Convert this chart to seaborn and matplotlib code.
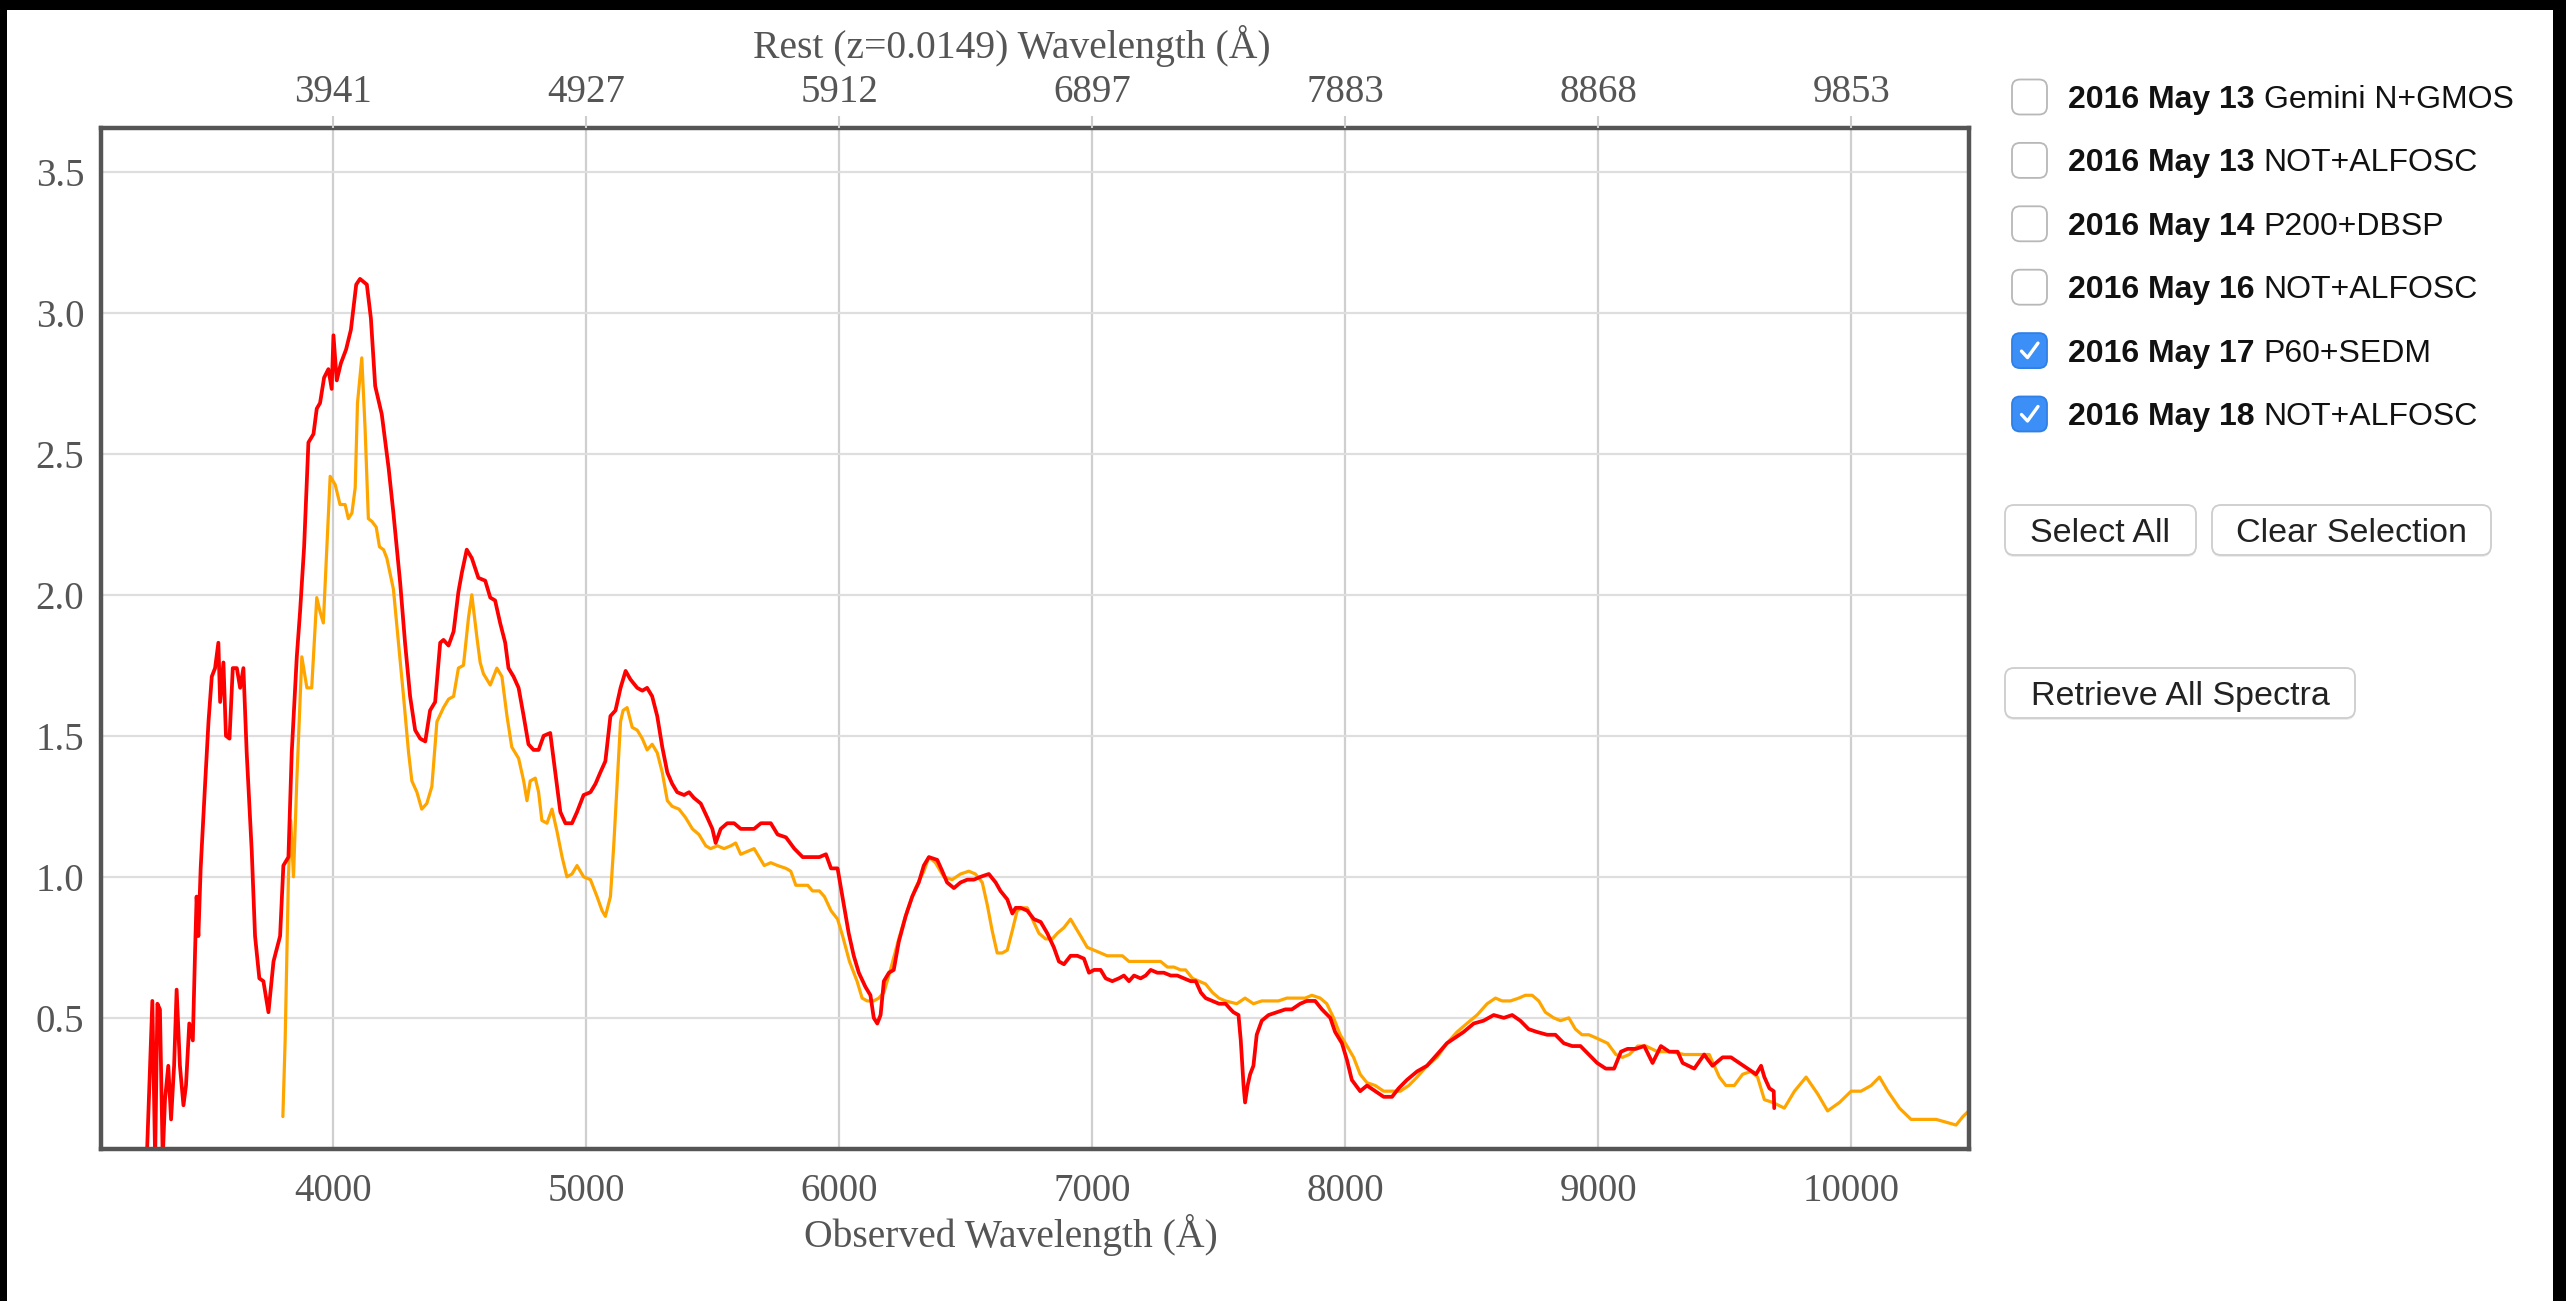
import matplotlib
matplotlib.use("Agg")
import matplotlib.pyplot as plt
from matplotlib.patches import FancyBboxPatch, Rectangle
import pandas as pd
import seaborn as sns

# ---------------------------------------------------------------- data
REDSHIFT = 0.0149

# 2016 May 18 NOT+ALFOSC (red)
may18_wave = [
    3262, 3275, 3284, 3295, 3304, 3314, 3325, 3334, 3347, 3358,
    3370, 3380, 3393, 3407, 3417, 3430, 3444, 3453, 3459, 3466,
    3475, 3492, 3506, 3519, 3532, 3545, 3552, 3565, 3575, 3589,
    3602, 3618, 3631, 3644, 3657, 3677, 3690, 3707, 3723, 3743,
    3763, 3789, 3802, 3822, 3835, 3855, 3868, 3884, 3901, 3921,
    3934, 3947, 3963, 3980, 3993, 4000, 4013, 4029, 4050, 4069,
    4090, 4105, 4132, 4148, 4165, 4191, 4218, 4237, 4264, 4283,
    4303, 4323, 4343, 4363, 4382, 4402, 4422, 4435, 4455, 4475,
    4494, 4508, 4527, 4547,
    4573, 4600, 4620, 4639, 4659, 4679, 4692, 4712, 4732, 4752,
    4771, 4791, 4811, 4831, 4857, 4877, 4897, 4917, 4943, 4963,
    4989, 5016, 5036, 5055, 5075, 5095, 5115, 5135, 5155, 5174,
    5201, 5221, 5240, 5260, 5280, 5300, 5320, 5339, 5359, 5386,
    5406, 5425, 5452, 5478, 5498, 5511, 5531, 5557, 5584, 5610,
    5637, 5663, 5690, 5729, 5756, 5789, 5822, 5855, 5888, 5921,
    5947, 5967, 5993,
    6018, 6037, 6057, 6077, 6103, 6123, 6136, 6150, 6163, 6176,
    6196, 6215, 6235, 6262, 6288, 6314, 6334, 6354, 6387, 6407,
    6426, 6453, 6479, 6506, 6532, 6558, 6591, 6618, 6637, 6664,
    6684, 6697, 6717, 6743, 6769, 6796, 6822, 6848, 6868, 6888,
    6914, 6941, 6967, 6987, 7007, 7033, 7053, 7079, 7105, 7125,
    7145, 7165, 7191, 7211, 7231, 7257, 7283, 7310, 7336, 7363,
    7389, 7409, 7429, 7448, 7475, 7501, 7527, 7547,
    7558, 7578, 7587, 7598, 7604, 7614, 7624, 7637, 7650, 7670,
    7697, 7730, 7763, 7789, 7822, 7848, 7881, 7908, 7941, 7960,
    7987, 8007, 8026, 8059, 8086, 8119, 8152, 8185, 8211, 8244,
    8284, 8323, 8363, 8402, 8435, 8468, 8508, 8547, 8587, 8627,
    8660, 8692, 8725, 8758, 8798, 8831, 8864, 8897, 8930, 8963,
    8996,
    9030, 9063, 9090, 9116, 9149, 9182, 9215, 9248, 9281, 9314,
    9334, 9380, 9419, 9452, 9492, 9525, 9558, 9591, 9624, 9644,
    9657, 9677, 9694, 9696,
]
may18_flux = [
    0.00, 0.33, 0.56, 0.00, 0.55, 0.53, 0.00, 0.21, 0.33, 0.14,
    0.33, 0.60, 0.33, 0.19, 0.26, 0.48, 0.42, 0.74, 0.93, 0.79,
    1.03, 1.32, 1.55, 1.71, 1.74, 1.83, 1.62, 1.76, 1.50, 1.49,
    1.74, 1.74, 1.67, 1.74, 1.44, 1.09, 0.79, 0.64, 0.63, 0.52,
    0.70, 0.79, 1.04, 1.07, 1.44, 1.78, 1.94, 2.17, 2.54, 2.57,
    2.66, 2.68, 2.77, 2.80, 2.73, 2.92, 2.76, 2.82, 2.87, 2.94,
    3.10, 3.12, 3.10, 2.98, 2.74, 2.64, 2.45, 2.29, 2.04, 1.83,
    1.64, 1.52, 1.49, 1.48, 1.59, 1.62, 1.83, 1.84, 1.82, 1.87,
    2.01, 2.08, 2.16, 2.13,
    2.06, 2.05, 1.99, 1.98, 1.90, 1.83, 1.74, 1.71, 1.67, 1.57,
    1.47, 1.45, 1.45, 1.50, 1.51, 1.37, 1.23, 1.19, 1.19, 1.23,
    1.29, 1.30, 1.33, 1.37, 1.41, 1.57, 1.59, 1.67, 1.73, 1.70,
    1.67, 1.66, 1.67, 1.64, 1.57, 1.46, 1.37, 1.33, 1.30, 1.29,
    1.30, 1.28, 1.26, 1.21, 1.17, 1.12, 1.17, 1.19, 1.19, 1.17,
    1.17, 1.17, 1.19, 1.19, 1.15, 1.14, 1.10, 1.07, 1.07, 1.07,
    1.08, 1.03, 1.03,
    0.90, 0.80, 0.72, 0.66, 0.61, 0.58, 0.50, 0.48, 0.51, 0.63,
    0.66, 0.67, 0.77, 0.86, 0.93, 0.98, 1.04, 1.07, 1.06, 1.02,
    0.98, 0.96, 0.98, 0.99, 0.99, 1.00, 1.01, 0.98, 0.95, 0.92,
    0.87, 0.89, 0.89, 0.88, 0.85, 0.84, 0.80, 0.75, 0.70, 0.69,
    0.72, 0.72, 0.71, 0.66, 0.67, 0.67, 0.64, 0.63, 0.64, 0.65,
    0.63, 0.65, 0.64, 0.65, 0.67, 0.66, 0.66, 0.65, 0.65, 0.64,
    0.63, 0.63, 0.59, 0.57, 0.56, 0.55, 0.55, 0.53,
    0.52, 0.51, 0.42, 0.26, 0.20, 0.26, 0.30, 0.33, 0.44, 0.49,
    0.51, 0.52, 0.53, 0.53, 0.55, 0.56, 0.56, 0.53, 0.50, 0.45,
    0.41, 0.35, 0.28, 0.24, 0.26, 0.24, 0.22, 0.22, 0.25, 0.28,
    0.31, 0.33, 0.37, 0.41, 0.43, 0.45, 0.48, 0.49, 0.51, 0.50,
    0.51, 0.49, 0.46, 0.45, 0.44, 0.44, 0.41, 0.40, 0.40, 0.37,
    0.34,
    0.32, 0.32, 0.38, 0.39, 0.39, 0.40, 0.34, 0.40, 0.38, 0.38,
    0.34, 0.32, 0.37, 0.33, 0.36, 0.36, 0.34, 0.32, 0.30, 0.33,
    0.29, 0.25, 0.24, 0.18,
]

# 2016 May 17 P60+SEDM (orange)
may17_wave = [
    3800, 3809, 3822, 3831, 3842, 3855, 3875, 3895, 3914, 3934,
    3947, 3960, 3974, 3987, 4007, 4026, 4046, 4059, 4073, 4086,
    4095, 4112, 4125, 4138, 4152, 4169, 4182, 4198, 4211, 4237,
    4257, 4277, 4297, 4310, 4330, 4349, 4369, 4389, 4409, 4435,
    4455, 4475, 4494, 4514, 4534, 4547, 4567, 4580,
    4593, 4620, 4646, 4666, 4686, 4705, 4732, 4752, 4765, 4778,
    4798, 4811, 4824, 4844, 4864, 4884, 4904, 4923, 4943, 4963,
    4989, 5016, 5042, 5062, 5075, 5095, 5108, 5122, 5135, 5145,
    5161, 5181, 5201, 5221, 5240, 5260, 5280, 5300, 5320, 5339,
    5366, 5392, 5419, 5445, 5472, 5491, 5518, 5544, 5571, 5590,
    5610, 5637, 5663, 5683, 5703, 5729, 5756, 5789, 5808, 5828,
    5855, 5875, 5894, 5921, 5941, 5967, 5993, 6013, 6040,
    6070, 6090, 6110, 6136, 6156, 6176, 6202, 6235, 6268, 6301,
    6334, 6354, 6380, 6413, 6446, 6479, 6512, 6538, 6565, 6585,
    6604, 6624, 6644, 6664, 6684, 6703, 6723, 6743, 6763, 6789,
    6815, 6842, 6862, 6888, 6914, 6934, 6954, 6980, 7007, 7033,
    7059, 7092, 7119, 7145, 7178, 7211, 7244, 7270, 7297, 7323,
    7349, 7369, 7396, 7422, 7448, 7475, 7501, 7527,
    7571, 7604, 7637, 7670, 7703, 7736, 7769, 7809, 7842, 7868,
    7901, 7927, 7954, 7980, 8007, 8033, 8059, 8086, 8119, 8152,
    8185, 8218, 8251, 8284, 8323, 8363, 8402, 8442, 8481, 8521,
    8561, 8594, 8620, 8653, 8686, 8712, 8739, 8765, 8791, 8824,
    8851, 8884, 8910, 8936, 8963, 8989,
    9037, 9070, 9096, 9123, 9156, 9189, 9235, 9288, 9340, 9393,
    9439, 9479, 9505, 9538, 9571, 9604, 9630, 9657, 9690, 9736,
    9776, 9822, 9868, 9907, 9954, 10000, 10039, 10079, 10112, 10145,
    10191, 10237, 10290, 10336, 10376, 10415, 10442, 10465,
]
may17_flux = [
    0.15, 0.42, 1.00, 1.20, 1.00, 1.34, 1.78, 1.67, 1.67, 1.99,
    1.94, 1.90, 2.17, 2.42, 2.39, 2.32, 2.32, 2.27, 2.29, 2.38,
    2.68, 2.84, 2.59, 2.27, 2.26, 2.24, 2.17, 2.16, 2.13, 2.02,
    1.83, 1.64, 1.44, 1.34, 1.30, 1.24, 1.26, 1.32, 1.55, 1.60,
    1.63, 1.64, 1.74, 1.75, 1.92, 2.00, 1.85, 1.76,
    1.72, 1.68, 1.74, 1.71, 1.57, 1.46, 1.42, 1.34, 1.27, 1.34,
    1.35, 1.30, 1.20, 1.19, 1.24, 1.16, 1.07, 1.00, 1.01, 1.04,
    1.00, 0.99, 0.93, 0.88, 0.86, 0.93, 1.11, 1.34, 1.55, 1.59,
    1.60, 1.53, 1.52, 1.49, 1.45, 1.47, 1.44, 1.37, 1.27, 1.25,
    1.24, 1.21, 1.17, 1.15, 1.11, 1.10, 1.11, 1.10, 1.11, 1.12,
    1.08, 1.09, 1.10, 1.07, 1.04, 1.05, 1.04, 1.03, 1.02, 0.97,
    0.97, 0.97, 0.95, 0.95, 0.93, 0.88, 0.85, 0.79, 0.70,
    0.63, 0.57, 0.56, 0.56, 0.57, 0.59, 0.67, 0.78, 0.88, 0.96,
    1.02, 1.07, 1.05, 1.00, 0.99, 1.01, 1.02, 1.01, 0.98, 0.90,
    0.81, 0.73, 0.73, 0.74, 0.81, 0.88, 0.89, 0.89, 0.85, 0.80,
    0.78, 0.78, 0.80, 0.82, 0.85, 0.82, 0.79, 0.75, 0.74, 0.73,
    0.72, 0.72, 0.72, 0.70, 0.70, 0.70, 0.70, 0.70, 0.68, 0.68,
    0.67, 0.67, 0.64, 0.63, 0.62, 0.59, 0.57, 0.56,
    0.55, 0.57, 0.55, 0.56, 0.56, 0.56, 0.57, 0.57, 0.57, 0.58,
    0.57, 0.55, 0.50, 0.44, 0.40, 0.36, 0.30, 0.27, 0.26, 0.24,
    0.24, 0.24, 0.26, 0.29, 0.33, 0.36, 0.41, 0.45, 0.48, 0.51,
    0.55, 0.57, 0.56, 0.56, 0.57, 0.58, 0.58, 0.56, 0.52, 0.50,
    0.49, 0.50, 0.46, 0.44, 0.44, 0.43,
    0.41, 0.37, 0.36, 0.37, 0.40, 0.40, 0.38, 0.38, 0.37, 0.37,
    0.37, 0.29, 0.26, 0.26, 0.30, 0.31, 0.29, 0.21, 0.20, 0.18,
    0.24, 0.29, 0.23, 0.17, 0.20, 0.24, 0.24, 0.26, 0.29, 0.24,
    0.18, 0.14, 0.14, 0.14, 0.13, 0.12, 0.15, 0.17,
]

obs_ticks = [4000, 5000, 6000, 7000, 8000, 9000, 10000]
flux_ticks = [0.5, 1.0, 1.5, 2.0, 2.5, 3.0, 3.5]

spectrum_dates = ["2016 May 13", "2016 May 13", "2016 May 14",
                  "2016 May 16", "2016 May 17", "2016 May 18"]
spectrum_instruments = ["Gemini N+GMOS", "NOT+ALFOSC", "P200+DBSP",
                        "NOT+ALFOSC", "P60+SEDM", "NOT+ALFOSC"]
spectrum_shown = [False, False, False, False, True, True]
button_labels = ["Select All", "Clear Selection", "Retrieve All Spectra"]

# ---------------------------------------------------------------- figure
W, H, DPI = 2566, 1301, 100
sns.set_theme(style="whitegrid")
plt.rcParams["font.family"] = ["Liberation Serif", "DejaVu Serif"]

SERIF = ["Liberation Serif", "DejaVu Serif"]
SANS = ["Liberation Sans", "DejaVu Sans"]
TEXT_GREY = "#555555"

fig = plt.figure(figsize=(W / DPI, H / DPI), dpi=DPI, facecolor="black")
fig.add_artist(Rectangle((7 / W, 0), (2553 - 7) / W, (H - 10) / H,
                         transform=fig.transFigure, facecolor="white",
                         edgecolor="none", zorder=-5))


def px_rect(x0, y0, x1, y1):
    return [x0 / W, 1 - y1 / H, (x1 - x0) / W, (y1 - y0) / H]


ax = fig.add_axes(px_rect(101, 128, 1969, 1149))
ax.set_facecolor("white")

frames = [
    pd.DataFrame({"wavelength": may17_wave, "flux": may17_flux,
                  "spectrum": "2016 May 17 P60+SEDM"}),
    pd.DataFrame({"wavelength": may18_wave, "flux": may18_flux,
                  "spectrum": "2016 May 18 NOT+ALFOSC"}),
]
palette = {"2016 May 17 P60+SEDM": "#ffa500",
           "2016 May 18 NOT+ALFOSC": "#ff0000"}
widths = {"2016 May 17 P60+SEDM": 2.3, "2016 May 18 NOT+ALFOSC": 2.7}
for frame in frames:
    name = frame["spectrum"].iloc[0]
    sns.lineplot(data=frame, x="wavelength", y="flux", hue="spectrum",
                 palette=palette, estimator=None, sort=False, legend=False,
                 linewidth=widths[name], ax=ax)

ax.set_xlim(3081, 10466)
ax.set_ylim(0.035, 3.655)
ax.set_xticks(obs_ticks)
ax.set_xticklabels([str(t) for t in obs_ticks])
ax.set_yticks(flux_ticks)
ax.set_yticklabels([f"{v:.1f}" for v in flux_ticks])
ax.set_xlabel("")
ax.set_ylabel("")
ax.tick_params(axis="both", length=0, labelsize=28, labelcolor=TEXT_GREY)
ax.tick_params(axis="x", pad=17)
ax.tick_params(axis="y", pad=12)
for lab in ax.get_xticklabels() + ax.get_yticklabels():
    lab.set_fontfamily(SERIF)
ax.grid(True)
ax.xaxis.grid(True, color="#cfcfcf", linewidth=1.6)
ax.yaxis.grid(True, color="#dedede", linewidth=1.6)
for side in ["left", "right", "top", "bottom"]:
    ax.spines[side].set_visible(True)
    ax.spines[side].set_color("#555555")
    ax.spines[side].set_linewidth(3.2)

# rest-frame wavelength axis on top
ax_top = ax.twiny()
ax_top.set_xlim(ax.get_xlim())
ax_top.set_xticks(obs_ticks)
ax_top.set_xticklabels([f"{t / (1 + REDSHIFT):.0f}" for t in obs_ticks])
ax_top.grid(False)
ax_top.tick_params(axis="x", top=True, bottom=False, length=9, width=1.5,
                   color="#cccccc", labelsize=28, labelcolor=TEXT_GREY, pad=3)
for lab in ax_top.get_xticklabels():
    lab.set_fontfamily(SERIF)
for side in ax_top.spines.values():
    side.set_visible(False)

fig.text(1011 / W, 1 - 1235 / H, "Observed Wavelength (Å)", ha="center",
         va="center", fontsize=28.5, color=TEXT_GREY, family=SERIF)
fig.text(1012 / W, 1 - 46 / H, f"Rest (z={REDSHIFT}) Wavelength (Å)",
         ha="center", va="center", fontsize=28.5, color=TEXT_GREY,
         family=SERIF)

# ---------------------------------------------------------------- selection panel
pax = fig.add_axes([0, 0, 1, 1], zorder=10)
pax.set_xlim(0, W)
pax.set_ylim(H, 0)
pax.axis("off")
pax.patch.set_alpha(0)

row_y0, row_step = 97, 63.4
box_x, box_s = 2012, 35
text_x = 2068
date_texts, inst_texts = [], []
for i, (date, inst, shown) in enumerate(zip(spectrum_dates,
                                            spectrum_instruments,
                                            spectrum_shown)):
    yc = row_y0 + i * row_step
    pax.add_patch(FancyBboxPatch(
        (box_x, yc - box_s / 2), box_s, box_s,
        boxstyle="round,pad=0,rounding_size=8",
        facecolor="#3b8ff6" if shown else "white",
        edgecolor="#2f7fe6" if shown else "#b8b8b8",
        linewidth=1.3))
    if shown:
        pax.plot([box_x + 9.5, box_x + 15.5, box_x + 26],
                 [yc + 0.5, yc + 7, yc - 7.5], color="white",
                 linewidth=2.4, solid_capstyle="round",
                 solid_joinstyle="round")
    t = pax.text(text_x, yc + 3, date, fontsize=23, fontweight="bold",
                 family=SANS, color="#111111", ha="left", va="center")
    date_texts.append(t)
    inst_texts.append(inst)

fig.canvas.draw()
renderer = fig.canvas.get_renderer()
for t, inst in zip(date_texts, inst_texts):
    bb = t.get_window_extent(renderer)
    x_end = bb.x1 * W / fig.bbox.width
    x_pos, y_pos = t.get_position()
    pax.text(x_end + 9, y_pos, inst, fontsize=23, family=SANS,
             color="#111111", ha="left", va="center")

buttons = [
    (button_labels[0], 2005, 505, 2196, 555),
    (button_labels[1], 2212, 505, 2491, 555),
    (button_labels[2], 2005, 668, 2355, 718),
]
for label, x0, y0, x1, y1 in buttons:
    pax.add_patch(FancyBboxPatch(
        (x0, y0 + 2), x1 - x0, y1 - y0,
        boxstyle="round,pad=0,rounding_size=9",
        facecolor="#ececec", edgecolor="none", linewidth=0))
    pax.add_patch(FancyBboxPatch(
        (x0, y0), x1 - x0, y1 - y0,
        boxstyle="round,pad=0,rounding_size=9",
        facecolor="white", edgecolor="#cdcdcd", linewidth=1.3))
    pax.text((x0 + x1) / 2, (y0 + y1) / 2 + 4, label, fontsize=24.5,
             family=SANS, color="#222222", ha="center", va="center")

fig.savefig("out.png", dpi=DPI, facecolor=fig.get_facecolor())
